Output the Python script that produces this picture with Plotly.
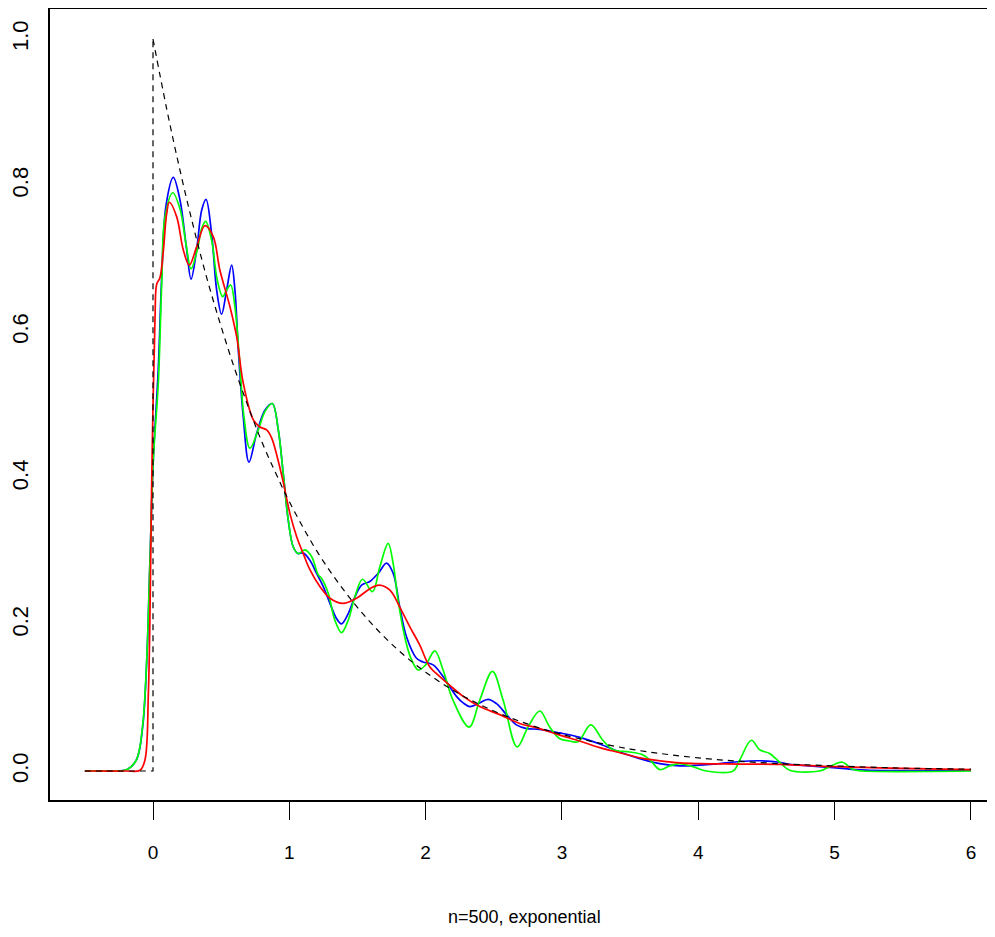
import plotly.graph_objects as go

# kernel density estimates
blue_x = [-0.5, -0.3, -0.19, -0.12, -0.076, -0.046, -0.022, 0.002, 0.039, 0.064, 0.095, 0.149, 0.198, 0.247,
          0.279, 0.32, 0.357, 0.389, 0.43, 0.467, 0.503, 0.54, 0.577, 0.601, 0.626, 0.662, 0.704, 0.76, 0.821,
          0.875, 0.919, 0.955, 0.992, 1.029, 1.065, 1.10, 1.151, 1.20, 1.249, 1.298, 1.347, 1.383, 1.432, 1.481,
          1.53, 1.591, 1.652, 1.713, 1.762, 1.81, 1.86, 1.933, 1.98, 2.055, 2.128, 2.177, 2.226, 2.275, 2.324,
          2.385, 2.458, 2.52, 2.593, 2.666, 2.74, 2.837, 2.984, 3.13, 3.277, 3.424, 3.57, 3.717, 3.864, 4.01,
          4.157, 4.304, 4.45, 4.597, 4.67, 4.817, 4.963, 5.11, 5.257, 6.0]
blue_y = [0, 0, 0.002, 0.016, 0.06, 0.15, 0.29, 0.425, 0.55, 0.675, 0.772, 0.811, 0.78, 0.712,
          0.672, 0.712, 0.766, 0.781, 0.734, 0.657, 0.624, 0.657, 0.691, 0.657, 0.575, 0.484, 0.422, 0.461, 0.493,
          0.502, 0.466, 0.407, 0.343, 0.306, 0.297, 0.298, 0.288, 0.27, 0.252, 0.229, 0.208, 0.201, 0.215, 0.238,
          0.254, 0.259, 0.27, 0.284, 0.27, 0.224, 0.183, 0.154, 0.149, 0.145, 0.129, 0.115, 0.102, 0.093, 0.088,
          0.092, 0.098, 0.092, 0.077, 0.063, 0.058, 0.057, 0.052, 0.046, 0.037, 0.026, 0.017, 0.01, 0.007, 0.008,
          0.01, 0.013, 0.014, 0.012, 0.009, 0.007, 0.005, 0.0025, 0.001, 0.001]

green_x = [-0.5, -0.3, -0.19, -0.12, -0.076, -0.046, -0.022, 0.002, 0.039, 0.064, 0.088, 0.145, 0.198, 0.242,
           0.279, 0.325, 0.357, 0.386, 0.43, 0.471, 0.511, 0.54, 0.57, 0.601, 0.633, 0.667, 0.711, 0.772, 0.821,
           0.875, 0.919, 0.955, 0.992, 1.029, 1.065, 1.114, 1.163, 1.212, 1.237, 1.285, 1.334, 1.383, 1.432,
           1.481, 1.537, 1.61, 1.664, 1.725, 1.762, 1.798, 1.847, 1.89, 1.945, 2.0, 2.067, 2.128, 2.2, 2.319,
           2.397, 2.49, 2.568, 2.671, 2.751, 2.837, 2.91, 2.984, 3.057, 3.118, 3.211, 3.30, 3.375, 3.497, 3.595,
           3.656, 3.717, 3.79, 3.864, 3.96, 4.06, 4.255, 4.304, 4.389, 4.45, 4.523, 4.597, 4.67, 4.89, 4.963,
           5.056, 5.134, 5.208, 6.0]
green_y = [0, 0, 0.002, 0.016, 0.062, 0.152, 0.288, 0.425, 0.53, 0.666, 0.757, 0.79, 0.768, 0.72,
           0.686, 0.712, 0.741, 0.751, 0.725, 0.671, 0.648, 0.657, 0.664, 0.634, 0.566, 0.484, 0.441, 0.466, 0.491,
           0.502, 0.466, 0.407, 0.343, 0.306, 0.297, 0.302, 0.293, 0.268, 0.263, 0.243, 0.206, 0.189, 0.206,
           0.238, 0.262, 0.245, 0.279, 0.311, 0.283, 0.233, 0.183, 0.155, 0.138, 0.145, 0.164, 0.138, 0.097, 0.06,
           0.097, 0.136, 0.097, 0.033, 0.06, 0.082, 0.06, 0.044, 0.041, 0.04, 0.063, 0.042, 0.029, 0.026, 0.022,
           0.013, 0.002, 0.007, 0.01, 0.006, 0.0, 0.0, 0.015, 0.042, 0.029, 0.024, 0.012, 0.001, 0.0, 0.006,
           0.012, 0.002, 0.0, 0.0]

red_x = [-0.5, -0.2, -0.095, -0.059, -0.034, -0.02, -0.007, 0.015, 0.027, 0.051, 0.076, 0.10, 0.12, 0.174,
         0.222, 0.266, 0.32, 0.381, 0.442, 0.491, 0.565, 0.614, 0.662, 0.735, 0.784, 0.834, 0.87, 0.91, 0.955,
         1.004, 1.054, 1.102, 1.151, 1.224, 1.298, 1.395, 1.493, 1.591, 1.659, 1.738, 1.81, 1.884, 1.957, 2.031,
         2.104, 2.177, 2.275, 2.397, 2.544, 2.69, 2.837, 2.984, 3.13, 3.277, 3.424, 3.57, 3.717, 3.864, 4.01,
         4.3, 4.6, 5.0, 5.5, 6.0]
red_y = [0, 0, 0.001, 0.015, 0.106, 0.243, 0.425, 0.62, 0.665, 0.674, 0.711, 0.761, 0.777, 0.757,
         0.712, 0.691, 0.716, 0.745, 0.73, 0.684, 0.634, 0.593, 0.53, 0.48, 0.47, 0.466, 0.455, 0.43, 0.395,
         0.352, 0.32, 0.297, 0.275, 0.252, 0.236, 0.229, 0.236, 0.249, 0.254, 0.247, 0.224, 0.197, 0.172, 0.142,
         0.129, 0.117, 0.102, 0.088, 0.077, 0.065, 0.058, 0.049, 0.041, 0.032, 0.025, 0.018, 0.014, 0.011, 0.01,
         0.0095, 0.009, 0.006, 0.0035, 0.002]

# true density (dashed)
true_step_x = [-0.5, 0, 0]
true_step_y = [0, 0, 1.0]
true_x = [0, 0.1, 0.2, 0.3, 0.4, 0.5, 0.6, 0.7, 0.8, 0.9, 1.0, 1.2, 1.4, 1.6, 1.8, 2.0, 2.25, 2.5, 2.75,
          3.0, 3.5, 4.0, 4.5, 5.0, 5.5, 6.0]
true_y = [1.0, 0.905, 0.819, 0.741, 0.670, 0.607, 0.549, 0.497, 0.449, 0.407, 0.368, 0.301, 0.247, 0.202,
          0.165, 0.135, 0.105, 0.082, 0.064, 0.050, 0.030, 0.018, 0.011, 0.007, 0.004, 0.0025]

x_ticks = [0, 1, 2, 3, 4, 5, 6]
y_ticks = [0.0, 0.2, 0.4, 0.6, 0.8, 1.0]
y_labels = ["0.0", "0.2", "0.4", "0.6", "0.8", "1.0"]
xlab = "n=500, exponential"

fig = go.Figure()

for xs, ys, col in [(blue_x, blue_y, "#0000ff"), (green_x, green_y, "#00ff00"), (red_x, red_y, "#ff0000")]:
    fig.add_trace(go.Scatter(x=xs, y=ys, mode="lines",
                             line=dict(color=col, width=1.7, shape="spline", smoothing=1.0),
                             showlegend=False))

fig.add_trace(go.Scatter(x=true_step_x, y=true_step_y, mode="lines",
                         line=dict(color="black", width=1.2, dash="6px,5px"), showlegend=False))
fig.add_trace(go.Scatter(x=true_x, y=true_y, mode="lines",
                         line=dict(color="black", width=1.2, dash="6px,5px", shape="spline"),
                         showlegend=False))

# the page body adds 8px on the left and top, so margins are trimmed by that much
fig.add_annotation(text=xlab, xref="paper", yref="paper", x=0.498, y=-0.148,
                   xanchor="center", yanchor="middle", showarrow=False,
                   font=dict(family="Liberation Sans, Arial", size=18, color="black"))

fig.update_layout(
    width=995, height=937,
    margin=dict(l=42, r=0, t=1, b=145),
    plot_bgcolor="white", paper_bgcolor="white",
    font=dict(family="Liberation Sans, Arial", color="black"),
    xaxis=dict(range=[-0.7555, 6.235], tickvals=x_ticks, ticks="outside", ticklen=18,
               tickcolor="black", tickwidth=1, showgrid=False, zeroline=False,
               showline=True, linecolor="black", linewidth=1.5, mirror=True, automargin=False,
               tickfont=dict(size=19), ticklabelstandoff=16),
    yaxis=dict(range=[-0.0396, 1.041], tickvals=y_ticks, ticktext=y_labels,
               ticks="outside", ticklen=11, tickcolor="rgba(0,0,0,0)",
               tickangle=-90, showgrid=False, zeroline=False, automargin=False,
               showline=True, linecolor="black", linewidth=1.5, mirror=False,
               tickfont=dict(size=22)),
)

fig.write_html("out.html")
